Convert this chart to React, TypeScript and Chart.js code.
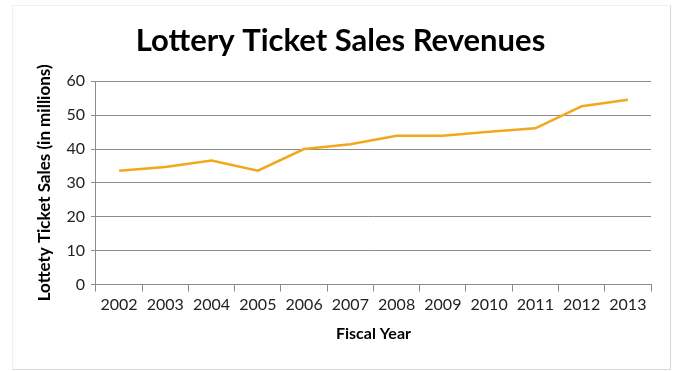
import React, { useEffect, useRef } from "react";
import { Chart, registerables } from "chart.js";

Chart.register(...registerables);

const categories = ["2002", "2003", "2004", "2005", "2006", "2007", "2008", "2009", "2010", "2011", "2012", "2013"];
const salesValues = [33.6, 34.7, 36.6, 33.6, 40.0, 41.4, 43.9, 43.9, 45.1, 46.1, 52.6, 54.5];
const yTicks = [0, 10, 20, 30, 40, 50, 60];
const chartTitle = "Lottery Ticket Sales Revenues";
const xTitle = "Fiscal Year";
const yTitle = "Lottety Ticket Sales (in millions)";

export default function App() {
  const ref = useRef<HTMLCanvasElement | null>(null);
  useEffect(() => {
    if (!ref.current) return;
    const chart = new Chart(ref.current, {
      type: "line",
      data: {
        labels: categories,
        datasets: [
          {
            data: salesValues,
            borderColor: "#F2A81D",
            borderWidth: 2.5,
            pointRadius: 0,
            tension: 0,
            fill: false,
          },
        ],
      },
      options: {
        animation: false,
        responsive: false,
        layout: { padding: { left: 30, right: 22, top: 14, bottom: 24 } },
        plugins: {
          legend: { display: false },
          tooltip: { enabled: false },
          title: {
            display: true,
            text: chartTitle,
            color: "#000",
            font: { family: "Lato", size: 31, weight: "bold" },
            padding: { top: 8, bottom: 22 },
          },
        },
        scales: {
          x: {
            offset: true,
            grid: { offset: true, drawOnChartArea: false, drawTicks: true, tickLength: 7, color: "#8c8c8c" },
            border: { display: true, color: "#8c8c8c", width: 1 },
            ticks: { color: "#222", font: { family: "Lato", size: 16 }, padding: 4, maxRotation: 0 },
            title: {
              display: true,
              text: xTitle,
              color: "#000",
              font: { family: "Lato", size: 16, weight: "bold" },
              padding: { top: 5 },
            },
          },
          y: {
            min: 0,
            max: 60,
            afterBuildTicks: (axis: any) => {
              axis.ticks = yTicks.map((v) => ({ value: v }));
            },
            grid: { color: "#8c8c8c", lineWidth: 1, tickLength: 5, drawTicks: true },
            border: { display: true, color: "#8c8c8c", width: 1 },
            ticks: { color: "#222", font: { family: "Lato", size: 16 }, padding: 6 },
            title: {
              display: true,
              text: yTitle,
              color: "#000",
              font: { family: "Lato", size: 17, weight: "bold" },
              padding: { bottom: 6 },
            },
          },
        },
      },
    });
    return () => chart.destroy();
  }, []);
  return (
    <div style={{ position: "fixed", left: 0, top: 0, width: 673, height: 371, background: "#fff" }}>
      <div style={{ position: "absolute", left: 12, top: 5, width: 657, height: 363, border: "1px solid #d8d8d8", borderTopColor: "#f0f0f0", borderLeftColor: "#f0f0f0" }} />
      <canvas ref={ref} width={673} height={371} style={{ position: "absolute", left: 0, top: 0 }} />
    </div>
  );
}
